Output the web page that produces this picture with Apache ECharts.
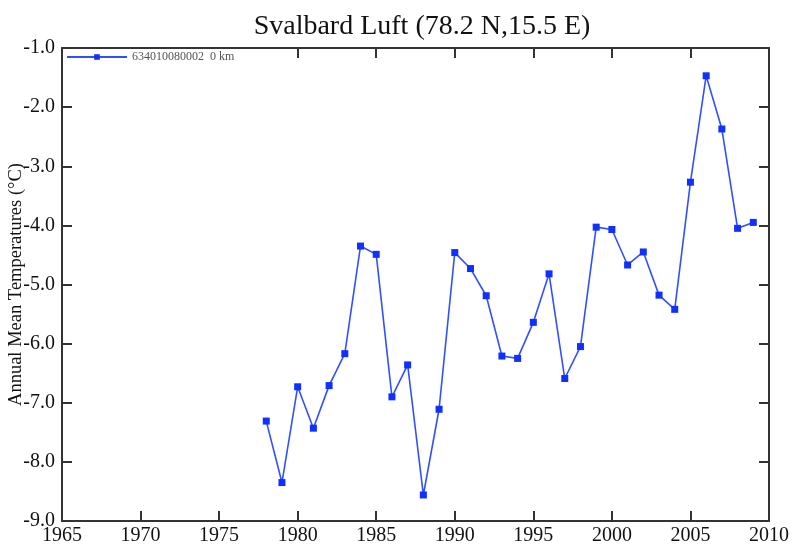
<!DOCTYPE html>
<html><head><meta charset="utf-8">
<script src="https://cdn.jsdelivr.net/npm/echarts@6/dist/echarts.min.js"></script>
<style>html,body{margin:0;padding:0;background:#fff}#c{width:793px;height:544px}</style>
</head><body><div id="c"></div>
<script>
var years = [1978,1979,1980,1981,1982,1983,1984,1985,1986,1987,1988,1989,1990,1991,1992,1993,1994,1995,1996,1997,1998,1999,2000,2001,2002,2003,2004,2005,2006,2007,2008,2009];
var temps = [-7.31,-8.35,-6.73,-7.43,-6.71,-6.17,-4.35,-4.49,-6.90,-6.36,-8.56,-7.11,-4.46,-4.73,-5.19,-6.21,-6.25,-5.64,-4.82,-6.59,-6.05,-4.03,-4.07,-4.67,-4.45,-5.18,-5.42,-3.27,-1.47,-2.37,-4.05,-3.95];
var topTickYears = [1980,1985,1990,1995,2000,2005];
var seriesName = '634010080002  0 km';
var titleText = 'Svalbard Luft (78.2 N,15.5 E)';
var yLabel = 'Annual Mean Temperatures (\u00B0C)';

var font = 'Liberation Serif, Times New Roman, serif';
var axisLine = {show:true, lineStyle:{color:'#333', width:2}};
var tick = {show:true, inside:true, length:10, lineStyle:{color:'#333', width:2}};
var chart = echarts.init(document.getElementById('c'));
chart.setOption({
  animation:false,
  backgroundColor:'#fff',
  title:{text:titleText, left:417, textAlign:'center', top:8,
    textStyle:{fontFamily:font, fontSize:28, fontWeight:'normal', color:'#111'}},
  legend:{left:61, top:47, itemWidth:60, itemHeight:7, itemGap:5,
    padding:[4,5,4,5],
    textStyle:{fontFamily:font, fontSize:12, color:'#555'},
    data:[{name:seriesName}]},
  grid:{left:62, right:24, top:48, bottom:23, containLabel:false, outerBoundsMode:'none'},
  xAxis:[
    {type:'value', min:1965, max:2010, interval:5, position:'bottom',
      axisLine:axisLine, axisTick:tick,
      axisLabel:{fontFamily:font, fontSize:20, color:'#111', margin:5,
        formatter:function(v){return String(v);}},
      splitLine:{show:false}},
    {type:'value', min:1965, max:2010, interval:5, position:'top',
      axisLine:axisLine,
      axisTick:{show:true, inside:true, length:10, lineStyle:{color:'#333', width:2}, customValues:topTickYears},
      axisLabel:{show:false}, splitLine:{show:false}}
  ],
  yAxis:[
    {type:'value', min:-9, max:-1, interval:1, position:'left',
      name:yLabel, nameLocation:'middle', nameGap:36, nameRotate:90, nameMoveOverlap:false,
      nameTextStyle:{fontFamily:font, fontSize:18.5, color:'#111'},
      axisLine:axisLine, axisTick:tick,
      axisLabel:{fontFamily:font, fontSize:20, color:'#111', margin:7,
        formatter:function(v){return v.toFixed(1);}},
      splitLine:{show:false}},
    {type:'value', min:-9, max:-1, interval:1, position:'right',
      axisLine:axisLine, axisTick:tick,
      axisLabel:{show:false}, splitLine:{show:false}}
  ],
  series:[{
    name:seriesName, type:'line',
    data:years.map(function(y,i){return [y,temps[i]];}),
    symbol:'rect', symbolSize:7,
    lineStyle:{color:'#3050ff', width:1.6},
    itemStyle:{color:'#1030ff'}
  }]
});
</script></body></html>
